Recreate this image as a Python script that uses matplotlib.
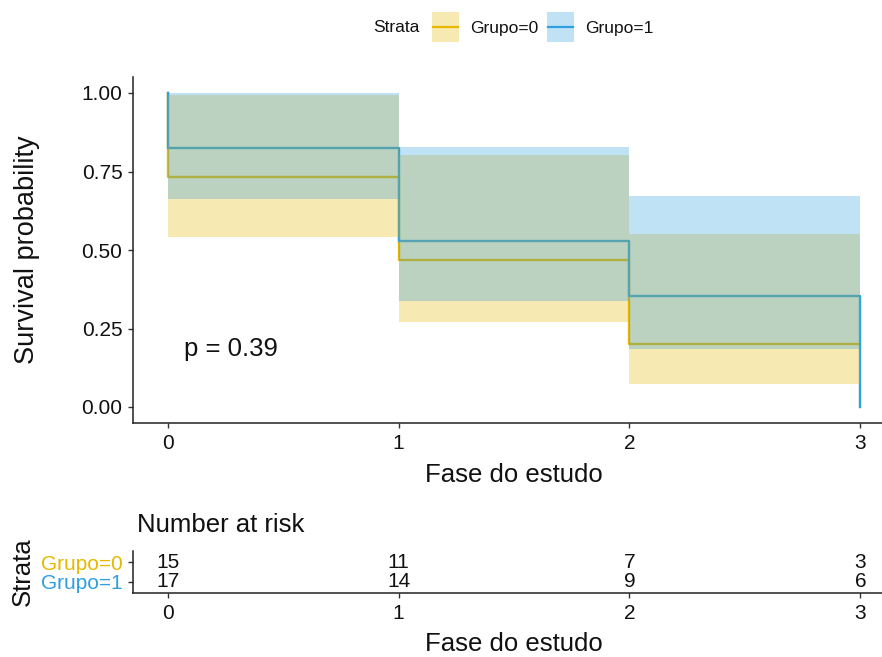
import matplotlib
matplotlib.use("Agg")
import matplotlib.pyplot as plt
from matplotlib.patches import Rectangle
from matplotlib.lines import Line2D

plt.rcParams['font.family'] = ['Liberation Sans', 'DejaVu Sans']

# ---- data -------------------------------------------------------------
groups = ["Grupo=0", "Grupo=1"]
colors = ["#E7B800", "#2E9FDF"]

# Kaplan-Meier step curves
times_g0 = [0, 0, 1, 2, 3]
surv_g0 = [1.000, 0.733, 0.467, 0.200, 0.200]
times_g1 = [0, 0, 1, 2, 3, 3]
surv_g1 = [1.000, 0.824, 0.529, 0.353, 0.353, 0.000]

# 95% confidence bands (log scale), one value per interval
ci_times = [0, 1, 2, 3]
lower_g0 = [0.540, 0.272, 0.073, 0.073]
upper_g0 = [0.995, 0.802, 0.550, 0.550]
lower_g1 = [0.661, 0.338, 0.185, 0.185]
upper_g1 = [1.000, 0.829, 0.672, 0.672]

# number at risk table
risk_times = [0, 1, 2, 3]
risk_g0 = [15, 11, 7, 3]
risk_g1 = [17, 14, 9, 6]

pval_text = "p = 0.39"
x_ticks = [0, 1, 2, 3]
y_ticks = [0.0, 0.25, 0.50, 0.75, 1.00]
y_ticklabels = ["0.00", "0.25", "0.50", "0.75", "1.00"]

# ---- figure -----------------------------------------------------------
W, H = 882, 657
fig = plt.figure(figsize=(W / 100, H / 100), dpi=100)


def px_axes(left, top, right, bottom):
    return fig.add_axes([left / W, 1 - bottom / H, (right - left) / W, (bottom - top) / H])


def style_axes(ax):
    for s in ("top", "right"):
        ax.spines[s].set_visible(False)
    for s in ("left", "bottom"):
        ax.spines[s].set_linewidth(1.1)
        ax.spines[s].set_color("#222222")
    ax.tick_params(direction="out", length=3.6, width=1.0, color="#333333",
                   labelsize=15, labelcolor="#111111")
    ax.tick_params(axis="y", pad=4)
    ax.tick_params(axis="x", pad=4.5)


# main survival panel
ax = px_axes(133, 77.3, 895, 422.7)
style_axes(ax)
ax.set_xlim(-0.15, 3.15)
ax.set_ylim(-0.05, 1.05)

ax.step(times_g0, surv_g0, where="post", color=colors[0], lw=1.7, zorder=2)
ax.step(times_g1, surv_g1, where="post", color=colors[1], lw=1.7, zorder=2)
ax.fill_between(ci_times, lower_g0, upper_g0, step="post", color=colors[0],
                alpha=0.3, lw=0, zorder=3)
ax.fill_between(ci_times, lower_g1, upper_g1, step="post", color=colors[1],
                alpha=0.3, lw=0, zorder=3)

ax.set_xticks(x_ticks)
ax.set_yticks(y_ticks)
ax.set_yticklabels(y_ticklabels)
ax.set_xlabel("Fase do estudo", fontsize=18.5, labelpad=7, color="#111111")
ax.set_ylabel("Survival probability", fontsize=19.5, labelpad=30, color="#111111")
ax.text(0.07, 0.185, pval_text, fontsize=18.5, ha="left", va="center", color="#111111")

# risk table panel
axr = px_axes(133, 551, 895, 593)
style_axes(axr)
axr.set_xlim(-0.15, 3.15)
axr.set_ylim(0.4, 2.6)
axr.set_xticks(x_ticks)
axr.set_yticks([2, 1])
axr.set_yticklabels(groups, fontsize=15)
for lab, c in zip(axr.get_yticklabels(), colors):
    lab.set_color(c)
for t, n in zip(risk_times, risk_g0):
    axr.text(t, 2, str(n), ha="center", va="center", fontsize=15, color="#111111")
for t, n in zip(risk_times, risk_g1):
    axr.text(t, 1, str(n), ha="center", va="center", fontsize=15, color="#111111")
axr.set_xlabel("Fase do estudo", fontsize=18.5, labelpad=6, color="#111111")
axr.set_ylabel("Strata", fontsize=18.5, labelpad=4, color="#111111")
fig.text(137 / W, 1 - 525 / H, "Number at risk", fontsize=18.5, ha="left",
         va="center", color="#111111")

# legend strip at the top
lg = fig.add_axes([0, 0, 1, 1], facecolor="none")
lg.set_xlim(0, W)
lg.set_ylim(H, 0)
lg.axis("off")
lg.text(373, 28, "Strata", fontsize=12.5, ha="left", va="center", color="#111111")
key_left = [432, 547]
text_left = [470, 585]
for kx, tx, c, g in zip(key_left, text_left, colors, groups):
    lg.add_patch(Rectangle((kx, 12), 27, 30, facecolor=c, alpha=0.3, lw=0))
    lg.add_line(Line2D([kx + 1, kx + 26], [27, 27], color=c, lw=1.6))
    lg.text(tx, 28, g, fontsize=12.5, ha="left", va="center", color="#111111")

fig.savefig("out.png", dpi=100)
